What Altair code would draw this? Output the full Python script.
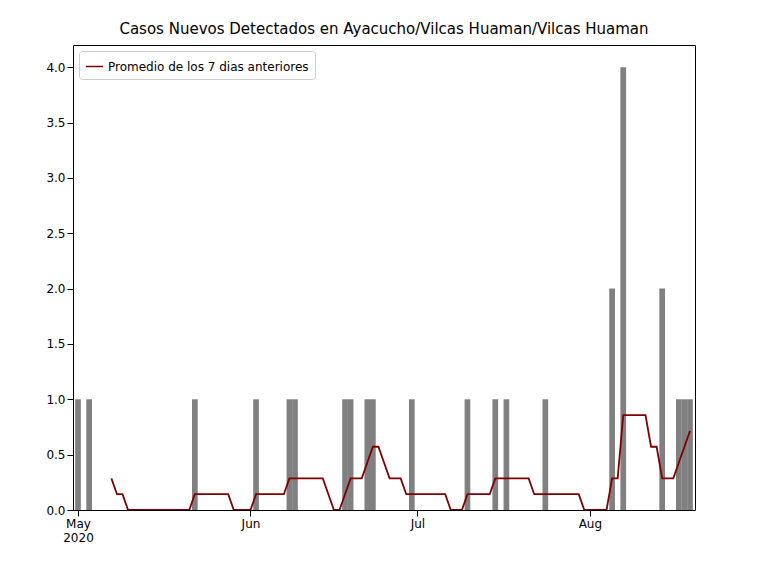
import altair as alt
import pandas as pd

# daily new cases (only non-zero days listed, others are 0)
case_dates = ["2020-05-01", "2020-05-03", "2020-05-22", "2020-06-02", "2020-06-08",
              "2020-06-09", "2020-06-18", "2020-06-19", "2020-06-22", "2020-06-23",
              "2020-06-30", "2020-07-10", "2020-07-15", "2020-07-17", "2020-07-24",
              "2020-08-05", "2020-08-07", "2020-08-14", "2020-08-17", "2020-08-18",
              "2020-08-19"]
case_values = [1, 1, 1, 1, 1, 1, 1, 1, 1, 1, 1, 1, 1, 1, 1, 2, 4, 2, 1, 1, 1]

days = pd.date_range("2020-05-01", "2020-08-19", freq="D")
counts = dict(zip(pd.to_datetime(case_dates), case_values))
df = pd.DataFrame({"fecha": days, "casos": [counts.get(d, 0) for d in days]})
df["fecha"] = df["fecha"].dt.strftime("%Y-%m-%d")


def utc(m, d):
    return alt.DateTime(year=2020, month=m, date=d, utc=True)


x_scale = alt.Scale(type="utc", domain=[utc(5, 1), utc(8, 19)])
x_axis = alt.Axis(title=None, values=[utc(5, 1), utc(6, 1), utc(7, 1), utc(8, 1)],
                  labelExpr="utcmonth(datum.value) == 4 ? ['May', '2020'] : utcFormat(datum.value, '%b')",
                  grid=False, tickColor="black", labelColor="black", domain=False,
                  labelFontSize=12, labelFont="DejaVu Sans", tickSize=6)

base = alt.Chart(df).transform_calculate(t="toDate(datum.fecha)")

bars = base.mark_bar(color="gray", size=5.7, clip=True).encode(
    x=alt.X("t:T", scale=x_scale, axis=x_axis),
    y=alt.Y("casos:Q", scale=alt.Scale(domain=[0, 4.2], nice=False),
            axis=alt.Axis(title=None, values=[0, 0.5, 1, 1.5, 2, 2.5, 3, 3.5, 4],
                          format=".1f", grid=False, domain=False, tickColor="black",
                          labelColor="black", labelFontSize=12, labelFont="DejaVu Sans",
                          tickSize=6)),
)

line = base.transform_window(
    prom="mean(casos)", n="count()", frame=[-6, 0], sort=[alt.SortField("fecha")]
).transform_filter("datum.n == 7").transform_calculate(
    serie="'Promedio de los 7 dias anteriores'"
).mark_line(strokeWidth=1.8, clip=True).encode(
    x="t:T",
    y="prom:Q",
    color=alt.Color("serie:N", scale=alt.Scale(range=["#800000"]),
                    legend=alt.Legend(title=None, orient="top-left", fillColor="white",
                                      strokeColor="#cccccc", padding=6, cornerRadius=3,
                                      labelFontSize=12, labelFont="DejaVu Sans",
                                      labelLimit=0, symbolType="stroke", symbolSize=300,
                                      offset=6)),
)

chart = (bars + line).properties(
    width=622, height=465,
    title=alt.Title("Casos Nuevos Detectados en Ayacucho/Vilcas Huaman/Vilcas Huaman",
                    fontSize=15, font="DejaVu Sans", fontWeight="normal", offset=8),
    autosize=alt.AutoSizeParams(type="none"),
    padding={"left": 65, "top": 37, "right": 50, "bottom": 50},
).configure_view(stroke="black", strokeWidth=1)

chart.save("out.html", embed_options={"renderer": "svg", "actions": False})
